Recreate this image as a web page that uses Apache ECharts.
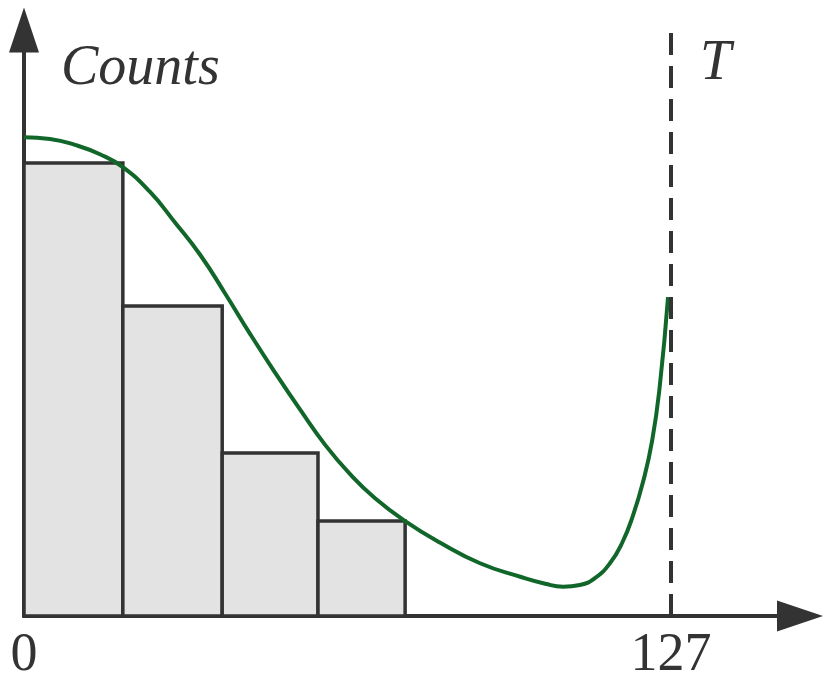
<!DOCTYPE html>
<html><head><meta charset="utf-8">
<script src="https://cdn.jsdelivr.net/npm/echarts@6/dist/echarts.min.js"></script>
<style>html,body{margin:0;padding:0;background:#fff}#c{width:831px;height:684px}</style>
</head><body><div id="c"></div>
<script>
// Histogram bins (left/right edges) and heights
const binEdges = [0, 19.4, 38.9, 57.7, 74.8];
const binCounts = [77.3, 52.9, 27.8, 16.2];
// Fitted curve
const curveX = [0, 5.1, 10.0, 14.9, 19.4, 24.7, 29.6, 34.6, 39.5, 44.4, 49.3, 54.2, 59.1, 64.0, 68.9, 74.8, 81.7, 89.5, 97.4, 102.3, 105.8, 109.1, 112.1, 115.0, 117.4, 119.5, 121.5, 123.3, 124.8, 126.4];
const curveY = [81.7, 81.4, 80.4, 78.8, 76.6, 72.4, 67.2, 61.6, 55.0, 48.1, 41.5, 35.2, 29.2, 24.2, 20.1, 16.2, 12.5, 9.0, 6.7, 5.5, 5.0, 5.3, 6.5, 9.0, 12.5, 17.1, 22.9, 30.0, 39.4, 54.4];
const xTickLabels = [0, 127];
const threshold = 127;

const bins = binCounts.map((h, i) => [binEdges[i], binEdges[i + 1], h]);
const curve = curveX.map((x, i) => [x, curveY[i]]);

const chart = echarts.init(document.getElementById('c'), null, {renderer: 'canvas'});
const ink = '#333333';
const serif = '"Liberation Serif", "DejaVu Serif", serif';
chart.setOption({
  animation: false,
  backgroundColor: '#ffffff',
  graphic: [
    {type: 'text', left: 61, top: 41, z: 10, style: {text: 'Counts', font: 'italic 56px ' + serif, fill: ink}},
    {type: 'text', left: 700, top: 36, z: 10, style: {text: 'T', font: 'italic 56px ' + serif, fill: ink}}
  ],
  grid: {left: 24, right: 31, top: 30, bottom: 68, containLabel: false, outerBoundsMode: 'none'},
  xAxis: {
    type: 'value', min: 0, max: 152.3,
    axisLine: {show: true, symbol: ['none', 'triangle'], symbolSize: [31, 46], lineStyle: {color: ink, width: 4}},
    axisTick: {show: false},
    splitLine: {show: false},
    axisLabel: {customValues: xTickLabels, margin: 13, fontFamily: serif, fontSize: 54, color: ink, formatter: v => String(v)}
  },
  yAxis: {
    type: 'value', min: 0, max: 100,
    axisLine: {show: true, symbol: ['none', 'triangle'], symbolSize: [30, 45], lineStyle: {color: ink, width: 4}},
    axisTick: {show: false},
    splitLine: {show: false},
    axisLabel: {show: false}
  },
  series: [
    {
      type: 'custom', z: 2,
      data: bins,
      encode: {x: [0, 1], y: 2},
      renderItem: function (params, api) {
        const p0 = api.coord([api.value(0), api.value(2)]);
        const p1 = api.coord([api.value(1), 0]);
        return {type: 'rect', shape: {x: p0[0], y: p0[1], width: p1[0] - p0[0], height: p1[1] - p0[1]},
          style: {fill: '#e3e3e3', stroke: ink, lineWidth: 3.5}};
      }
    },
    {
      type: 'line', z: 3,
      data: curve,
      showSymbol: false,
      smooth: 0.5,
      lineStyle: {color: '#11662a', width: 4},
      markLine: {
        silent: true, symbol: 'none',
        label: {show: false},
        lineStyle: {color: ink, width: 4, type: [22, 11]},
        data: [{xAxis: threshold}]
      }
    }
  ]
});
</script>
</body></html>
